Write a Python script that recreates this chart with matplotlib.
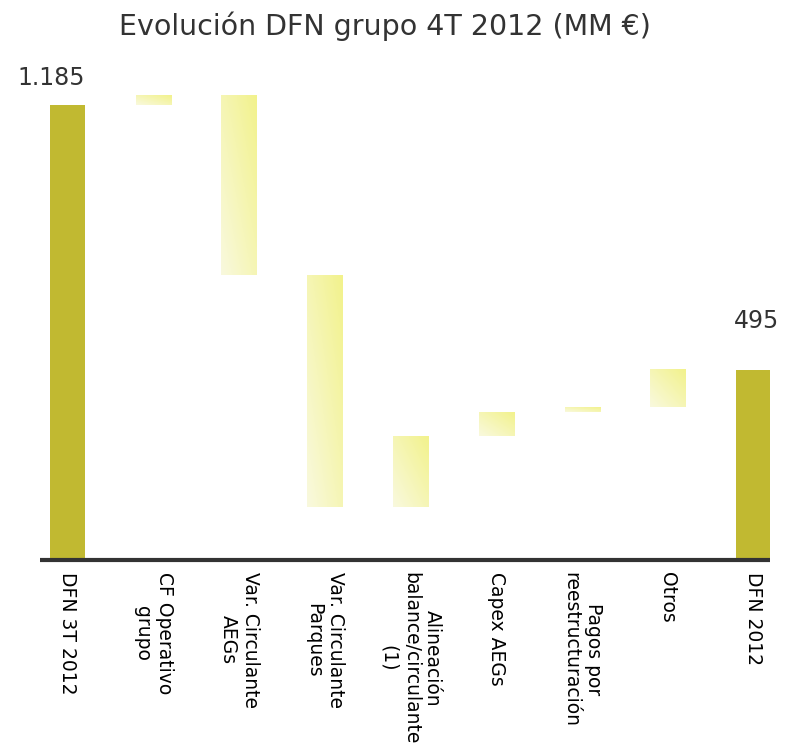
import numpy as np
import matplotlib.pyplot as plt
from matplotlib.colors import LinearSegmentedColormap

# Datos: evolución de la deuda financiera neta (MM €)
categories = ["DFN 3T 2012", "CF Operativo\ngrupo", "Var. Circulante\nAEGs",
              "Var. Circulante\nParques", "Alineación\nbalance/circulante\n(1)",
              "Capex AEGs", "Pagos por\nreestructuración", "Otros", "DFN 2012"]
start_value = 1185
deltas = [24, -468, -602, 184, 62, 13, 97]
end_value = 495

solid_color = "#c1b931"
grad_cmap = LinearSegmentedColormap.from_list("amarillo", ["#f9f9de", "#f2f28c"])

fig = plt.figure(figsize=(7.86, 7.43), dpi=100)
W, H = 786, 743
ax = fig.add_axes([40 / W, (H - 560) / H, 730 / W, 500 / H])

bw = 0.41
x = np.arange(len(categories))

# barras de saldo inicial y final
ax.bar(x[0], start_value, width=bw, color=solid_color, zorder=2)
ax.bar(x[-1], end_value, width=bw, color=solid_color, zorder=2)

# barras flotantes con degradado diagonal
n = 64
gx, gy = np.meshgrid(np.linspace(0, 1, n), np.linspace(1, 0, n))
grad = (gx + gy) / 2
level = start_value
for i, d in enumerate(deltas, start=1):
    lo, hi = sorted([level, level + d])
    ax.imshow(grad, cmap=grad_cmap, aspect="auto", interpolation="bilinear",
              extent=[x[i] - bw / 2, x[i] + bw / 2, lo, hi], zorder=2)
    level += d

ax.set_xlim(-0.32, 8.19)
ax.set_ylim(0, 500 * start_value / 455)

for s in ["top", "right", "left"]:
    ax.spines[s].set_visible(False)
ax.spines["bottom"].set_linewidth(3)
ax.spines["bottom"].set_color("#333333")
ax.spines["bottom"].set_capstyle("butt")
ax.spines["bottom"].set_zorder(3)
ax.set_yticks([])
ax.set_xticks([])

# etiquetas de categoría, giradas
for xi, lab in zip(x, categories):
    ax.annotate(lab, xy=(xi, 0), xytext=(0, -12), textcoords="offset pixels",
                rotation=270, ha="center", va="top", multialignment="center",
                fontsize=13.5, color="black")

# valores de saldo
fmt = lambda v: f"{v:,}".replace(",", ".")
ax.annotate(fmt(start_value), xy=(x[0], start_value), xytext=(-16, 15),
            textcoords="offset pixels", ha="center", va="bottom",
            fontsize=17, color="#333333")
ax.annotate(fmt(end_value), xy=(x[-1], end_value), xytext=(3, 37),
            textcoords="offset pixels", ha="center", va="bottom",
            fontsize=17, color="#333333")

fig.text(385 / W, 1 - 26 / H, "Evolución DFN grupo 4T 2012 (MM €)",
         ha="center", va="center", fontsize=20.5, color="#333333")

fig.savefig("out.png", dpi=100)
